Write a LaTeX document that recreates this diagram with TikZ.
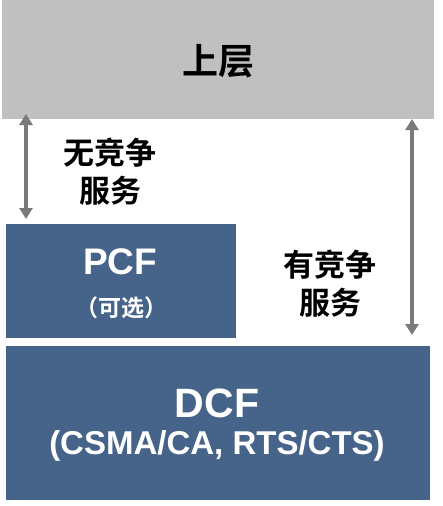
\documentclass[tikz,border=0pt]{standalone}
\usepackage{fontspec}
\setmainfont{Liberation Sans}
\newfontfamily\cjk{Noto Sans CJK SC}
\newfontfamily\cjkb{Noto Sans CJK SC Bold}
\usetikzlibrary{arrows.meta}
\definecolor{boxblue}{HTML}{46648A}
\definecolor{upgray}{HTML}{C0C0C0}
\definecolor{arrgray}{HTML}{7A7A7A}
\tikzset{
  layerbox/.style={fill=boxblue, draw=none},
  darr/.style={draw=arrgray, line width=4pt, {Triangle[width=13pt,length=11pt]}-{Triangle[width=13pt,length=11pt]}},
  lbl/.style={font=\cjkb\fontsize{31}{38}\selectfont, align=center, text=black, inner sep=0pt}
}
\begin{document}
\begin{tikzpicture}[x=1pt,y=-1pt]
\useasboundingbox (0,0) rectangle (442,506);
\fill[upgray] (2,0) rectangle (434,119);
\node[font=\cjkb\fontsize{36}{40}\selectfont, inner sep=0pt] (up) at (218,61) {上层};
\fill[layerbox] (6,224) rectangle (236,338);
\node[text=white, font=\bfseries\fontsize{37}{40}\selectfont, inner sep=0pt] (pcf) at (120,262) {PCF};
\node[text=white, font=\cjkb\fontsize{23}{26}\selectfont, inner sep=0pt] (opt) at (121,308) {（可选）};
\fill[layerbox] (6,346) rectangle (430,500);
\node[text=white, font=\bfseries\fontsize{41}{46}\selectfont, inner sep=0pt] (dcf) at (217,403) {DCF};
\node[text=white, font=\bfseries\fontsize{33}{38}\selectfont, inner sep=0pt] (csma) at (217,446) {(CSMA/CA, RTS/CTS)};
\coordinate (la) at (26,114);
\coordinate (lb) at (26,219);
\draw[darr] (la) -- (lb);
\coordinate (ra) at (412,119);
\coordinate (rb) at (412,335);
\draw[darr] (ra) -- (rb);
\node[lbl] (free) at (110,172) {无竞争\\服务};
\node[lbl] (cont) at (330,284) {有竞争\\服务};
\end{tikzpicture}
\end{document}
